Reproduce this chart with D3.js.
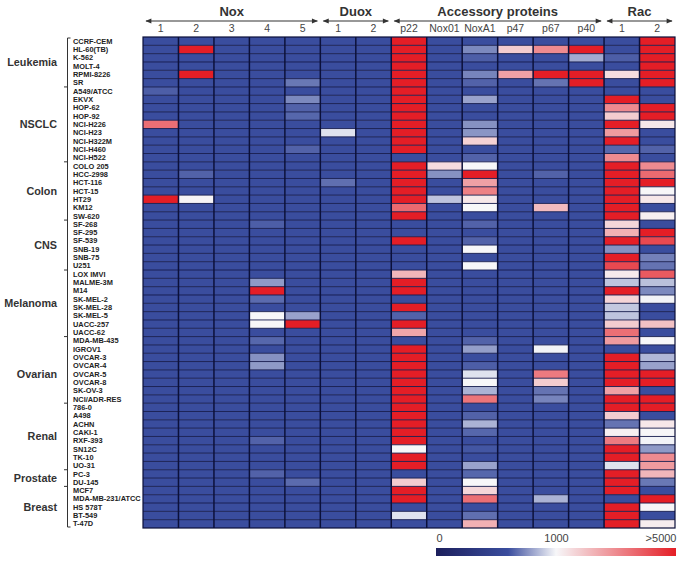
<!DOCTYPE html>
<html>
<head>
<meta charset="utf-8">
<script src="https://cdn.jsdelivr.net/npm/d3@7/dist/d3.min.js"></script>
<style>
  html, body { margin: 0; padding: 0; background: #ffffff; }
  svg { display: block; font-family: "Liberation Sans", Arial, sans-serif; }
</style>
</head>
<body>
<svg id="chart" width="684" height="565"></svg>
<script>
// ---------------- DATA ----------------
const cellLines = ["CCRF-CEM","HL-60(TB)","K-562","MOLT-4","RPMI-8226","SR",
  "A549/ATCC","EKVX","HOP-62","HOP-92","NCI-H226","NCI-H23","NCI-H322M","NCI-H460","NCI-H522",
  "COLO 205","HCC-2998","HCT-116","HCT-15","HT29","KM12","SW-620",
  "SF-268","SF-295","SF-539","SNB-19","SNB-75","U251",
  "LOX IMVI","MALME-3M","M14","SK-MEL-2","SK-MEL-28","SK-MEL-5","UACC-257","UACC-62",
  "MDA-MB-435","IGROV1","OVCAR-3","OVCAR-4","OVCAR-5","OVCAR-8","SK-OV-3","NCI/ADR-RES",
  "786-0","A498","ACHN","CAKI-1","RXF-393","SN12C","TK-10","UO-31",
  "PC-3","DU-145",
  "MCF7","MDA-MB-231/ATCC","HS 578T","BT-549","T-47D"];

const tissues = ["Leukemia","NSCLC","Colon","CNS","Melanoma","Ovarian","Renal","Prostate","Breast"];
const tissueFirst = ["CCRF-CEM","A549/ATCC","COLO 205","SF-268","LOX IMVI","IGROV1","786-0","PC-3","MCF7"];
const tissueLast  = ["SR","NCI-H522","SW-620","U251","UACC-62","NCI/ADR-RES","UO-31","DU-145","T-47D"];
const bracketBreaks = ["A549/ATCC","COLO 205","SF-268","LOX IMVI","MDA-MB-435","786-0","PC-3","MCF7"];

const genes = ["Nox1","Nox2","Nox3","Nox4","Nox5","Duox1","Duox2","p22","Nox01","NoxA1","p47","p67","p40","Rac1","Rac2"];
const geneLabels = ["1","2","3","4","5","1","2","p22","Nox01","NoxA1","p47","p67","p40","1","2"];
const families = ["Nox","Duox","Accessory proteins","Rac"];
const familyFirst = ["Nox1","Duox1","p22","Rac1"];
const familyLast  = ["Nox5","Duox2","p40","Rac2"];

const legendTicks = [0, 1000, 5000];
const legendTickLabels = ["0", "1000", ">5000"];

// expression values per gene (59 cell lines each, in cellLines order)
const nox1 = [600,600,600,600,600,600,640,600,600,600, 3500,600,600,600,600,600,600,600,600,5000,
  600,600,600,600,600,600,600,600,600,600, 600,600,600,600,600,600,600,600,600,600,
  600,600,600,600,600,600,600,600,600,600, 600,600,600,600,600,600,600,600,600];
const nox2 = [600,5000,600,600,5000,600,600,600,600,600, 600,600,600,600,600,600,650,600,600,1050,
  600,600,600,600,600,600,600,600,600,600, 600,600,600,600,600,600,600,600,600,600,
  600,600,600,600,600,600,600,600,600,600, 600,600,600,600,600,600,600,600,600];
const nox3 = [600,600,600,600,600,600,600,600,600,600, 600,600,600,600,600,600,600,600,600,600,
  600,600,600,600,600,600,600,600,600,600, 600,600,600,600,600,600,600,600,600,600,
  600,600,600,600,600,600,600,600,600,600, 600,600,600,600,600,600,600,600,600];
const nox4 = [600,600,600,600,600,600,600,600,600,600, 600,600,600,600,600,600,600,600,600,600,
  600,600,640,600,600,600,600,600,600,780, 5000,670,600,1000,1020,600,660,600,760,780,
  600,600,600,600,600,600,600,600,650,600, 600,600,650,600,600,600,600,600,600];
const nox5 = [600,600,600,600,600,700,600,740,650,660, 600,600,600,650,600,600,600,600,600,600,
  600,600,600,600,600,600,600,600,600,600, 600,600,600,800,5000,600,600,600,600,600,
  600,600,600,600,600,600,600,600,600,600, 600,600,600,670,600,600,600,600,600];
const duox1 = [600,600,600,600,600,600,600,600,600,600, 600,950,600,600,600,600,600,680,600,600,
  600,600,600,600,600,600,600,600,600,600, 600,600,600,600,600,600,600,600,600,600,
  600,600,600,600,600,600,600,600,600,600, 600,600,600,600,600,600,600,600,600];
const duox2 = [600,600,600,600,600,600,600,600,600,600, 600,600,600,600,600,600,600,600,600,600,
  600,600,600,600,600,600,600,600,600,600, 600,600,600,600,600,600,600,600,600,600,
  600,600,600,600,600,600,600,600,600,600, 600,600,600,600,600,600,600,600,600];
const p22 = [5000,5000,5000,5000,5000,5000,5000,5000,5000,5000, 5000,5000,5000,5000,600,5000,5000,5000,5000,5000,
  3600,5000,600,600,5000,600,600,600,2200,5000, 5000,600,5000,650,5000,2500,600,5000,5000,5000,
  5000,5000,5000,5000,5000,5000,5000,5000,5000,1000, 5000,5000,600,1800,5000,5000,600,950,600];
const nox01 = [600,600,600,600,600,600,600,600,600,600, 600,600,600,600,600,1500,760,600,600,880,
  600,600,600,600,600,600,600,600,600,600, 600,600,600,600,600,600,600,600,600,600,
  600,600,600,600,600,600,600,600,600,600, 600,600,600,600,600,600,600,600,600];
const noxa1 = [600,740,640,600,730,650,600,800,600,600, 760,770,1700,600,650,1000,5000,2600,3200,1300,
  1000,600,650,600,650,1000,600,1000,600,600, 600,600,600,600,600,600,650,790,600,640,
  950,1000,840,3400,600,650,840,660,600,620, 600,800,660,1000,1600,3500,600,680,2300];
const p47 = [600,1800,600,600,2600,600,600,600,600,600, 600,600,600,600,600,600,600,600,600,600,
  600,600,600,600,600,600,600,600,600,600, 600,600,600,600,600,600,600,600,600,600,
  600,600,600,600,600,600,600,600,600,600, 600,600,600,600,600,600,600,600,600];
const p67 = [600,3000,600,600,5000,690,600,600,600,600, 600,600,600,600,600,600,650,600,600,600,
  2100,600,600,600,600,600,600,600,600,600, 600,600,600,600,600,600,600,990,600,600,
  3300,1800,690,730,600,600,600,600,600,600, 600,600,600,600,600,840,600,600,600];
const p40 = [600,5000,820,600,5000,5000,600,600,600,600, 600,600,600,600,600,600,600,600,600,600,
  600,600,600,600,600,600,600,600,600,600, 600,600,600,600,600,600,600,600,600,600,
  600,600,600,600,600,600,600,600,600,600, 600,600,600,600,600,600,600,600,600];
const rac1 = [600,600,640,600,1500,600,600,5000,3000,1800, 5000,2700,5000,660,3000,5000,5000,5000,5000,5000,
  5000,5000,1600,2300,5000,760,5000,4200,1250,880, 5000,1650,890,880,1800,3500,2700,600,5000,5000,
  5000,5000,2600,5000,5000,1800,690,1150,3300,5000, 5000,950,5000,5000,5000,600,5000,5000,5000];
const rac2 = [5000,5000,5000,5000,5000,5000,600,600,5000,5000, 1300,600,600,650,600,3000,3600,5000,1020,1300,
  600,1150,600,5000,4200,600,720,690,3900,870, 740,990,600,600,2000,600,1000,600,850,800,
  5000,5000,600,5000,5000,600,1300,1020,990,780, 3000,2700,2200,700,600,5000,1020,600,1200];

const series = [nox1, nox2, nox3, nox4, nox5, duox1, duox2, p22, nox01, noxa1, p47, p67, p40, rac1, rac2];

// ---------------- CHART ----------------
const svg = d3.select("#chart");
const M = { left: 143, right: 675, top: 37, bottom: 528 };

const x = d3.scaleBand().domain(genes).range([M.left, M.right]).padding(0);
const y = d3.scaleBand().domain(cellLines).range([M.top, M.bottom]).padding(0);

const color = d3.scaleLinear()
  .domain([0, 600, 1000, 5000])
  .range(["#1c1f5c", "#3a4d9e", "#f7f7f9", "#e41e26"])
  .interpolate(d3.interpolateRgb)
  .clamp(true);

const cells = [];
genes.forEach((g, gi) => {
  cellLines.forEach((c, ci) => cells.push({ gene: g, line: c, value: series[gi][ci] }));
});

const grid = svg.append("g");
grid.selectAll("rect.cell").data(cells).join("rect")
  .attr("class", "cell")
  .attr("x", d => x(d.gene))
  .attr("y", d => y(d.line))
  .attr("width", x.bandwidth())
  .attr("height", y.bandwidth())
  .attr("fill", d => color(d.value));

// row separators
grid.selectAll("line.row").data(cellLines.slice(1)).join("line")
  .attr("x1", M.left).attr("x2", M.right)
  .attr("y1", d => y(d)).attr("y2", d => y(d))
  .attr("stroke", "#141a4c").attr("stroke-width", 0.9);
// column separators
grid.selectAll("line.col").data(genes.slice(1)).join("line")
  .attr("y1", M.top).attr("y2", M.bottom)
  .attr("x1", d => x(d)).attr("x2", d => x(d))
  .attr("stroke", "#0b103a").attr("stroke-width", 1.5);
grid.append("rect")
  .attr("x", M.left).attr("y", M.top)
  .attr("width", M.right - M.left).attr("height", M.bottom - M.top)
  .attr("fill", "none").attr("stroke", "#0b103a").attr("stroke-width", 1.2);

// column labels
svg.append("g").selectAll("text").data(genes).join("text")
  .attr("x", d => x(d) + x.bandwidth() / 2)
  .attr("y", 32)
  .attr("text-anchor", "middle")
  .attr("font-size", 10.5)
  .attr("fill", "#444")
  .text((d, i) => geneLabels[i]);

// family headers + double arrows
const defs = svg.append("defs");
defs.append("marker").attr("id", "ah").attr("viewBox", "0 0 10 10")
  .attr("refX", 9).attr("refY", 5).attr("markerWidth", 7).attr("markerHeight", 6)
  .attr("markerUnits", "userSpaceOnUse")
  .attr("orient", "auto-start-reverse")
  .append("path").attr("d", "M0,1 L10,5 L0,9 Z").attr("fill", "#333");

const fam = svg.append("g");
families.forEach((f, i) => {
  const x0 = x(familyFirst[i]);
  const x1 = x(familyLast[i]) + x.bandwidth();
  fam.append("line")
    .attr("x1", x0 + 3).attr("x2", x1 - 3).attr("y1", 21).attr("y2", 21)
    .attr("stroke", "#333").attr("stroke-width", 1.2)
    .attr("marker-start", "url(#ah)").attr("marker-end", "url(#ah)");
  fam.append("text")
    .attr("x", (x0 + x1) / 2).attr("y", 16)
    .attr("text-anchor", "middle")
    .attr("font-size", 13).attr("font-weight", "bold")
    .attr("fill", "#333")
    .text(f);
});

// row labels
svg.append("g").selectAll("text").data(cellLines).join("text")
  .attr("x", 73)
  .attr("y", d => y(d) + y.bandwidth() / 2 + 2.6)
  .attr("font-size", 7.4).attr("font-weight", "bold")
  .attr("fill", "#222")
  .text(d => d);

// bracket
const br = svg.append("g").attr("stroke", "#333").attr("stroke-width", 1).attr("fill", "none");
const bx = 67.5;
br.append("path").attr("d", `M${bx + 3},${M.top + 1} H${bx} V${M.bottom - 1} H${bx + 3}`);
br.selectAll("line").data(bracketBreaks).join("line")
  .attr("x1", bx - 3.5).attr("x2", bx)
  .attr("y1", d => y(d)).attr("y2", d => y(d));

// tissue labels
svg.append("g").selectAll("text").data(tissues).join("text")
  .attr("x", 57)
  .attr("y", (d, i) => (y(tissueFirst[i]) + y(tissueLast[i]) + y.bandwidth()) / 2 + 3.8)
  .attr("text-anchor", "end")
  .attr("font-size", 10.8).attr("font-weight", "bold")
  .attr("fill", "#333")
  .text(d => d);

// legend
const lx = d3.scaleLinear().domain([0, 1000, 5000]).range([436, 556, 676]);
const grad = defs.append("linearGradient").attr("id", "lg")
  .attr("x1", "0%").attr("x2", "100%").attr("y1", "0%").attr("y2", "0%");
const stops = d3.range(0, 1.0001, 0.02);
grad.selectAll("stop").data(stops).join("stop")
  .attr("offset", d => (d * 100) + "%")
  .attr("stop-color", d => color(lx.invert(436 + d * 240)));
svg.append("rect")
  .attr("x", lx(0)).attr("y", 548)
  .attr("width", lx(5000) - lx(0)).attr("height", 8)
  .attr("fill", "url(#lg)");

const legAxis = d3.axisTop(lx).tickValues(legendTicks)
  .tickFormat((d, i) => legendTickLabels[i]).tickSize(0);
const lg = svg.append("g").attr("transform", "translate(0,545)").call(legAxis);
lg.select(".domain").remove();
lg.selectAll("text")
  .attr("font-size", 11).attr("fill", "#444")
  .attr("font-family", "Liberation Sans, Arial, sans-serif")
  .attr("dy", 0)
  .attr("text-anchor", (d, i) => i === 0 ? "start" : (i === legendTicks.length - 1 ? "end" : "middle"));
</script>
</body>
</html>
